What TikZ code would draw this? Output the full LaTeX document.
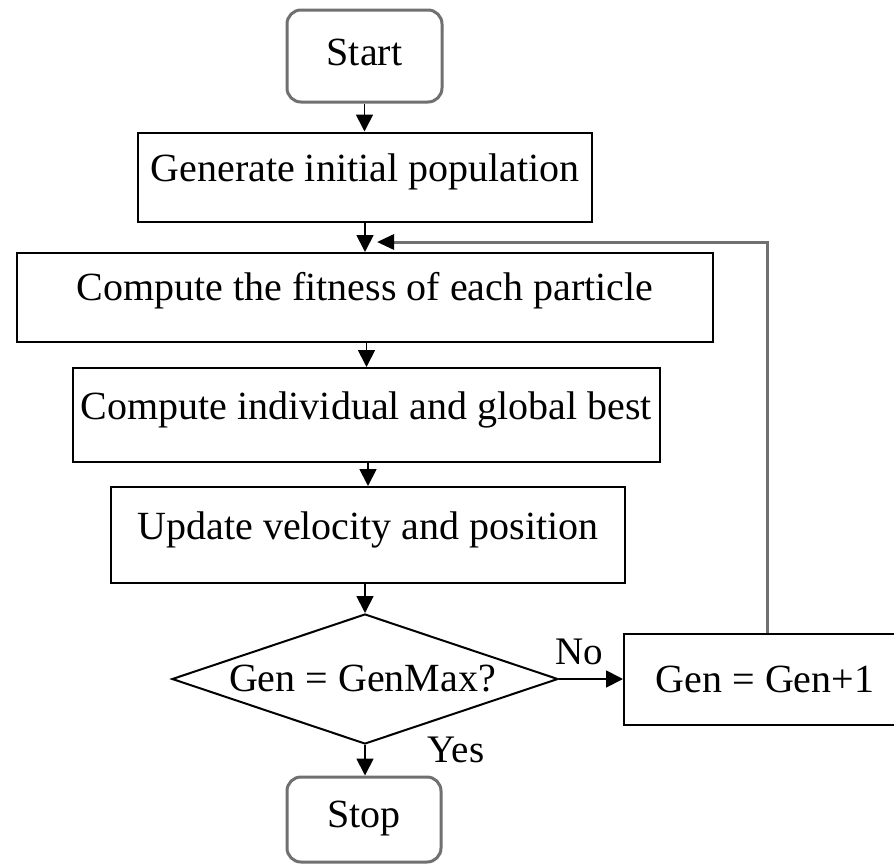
\documentclass[tikz,border=0pt]{standalone}
\usepackage{fontspec}
\setmainfont{Liberation Serif}
\usetikzlibrary{shapes.geometric,arrows.meta}
\definecolor{edgegrey}{RGB}{112,112,112}
\newcommand{\lift}[2]{\raisebox{#1}[\height][\depth]{#2}}
\begin{document}
\begin{tikzpicture}[x=1pt,y=-1pt,
  every node/.style={font=\fontsize{40}{46}\selectfont, inner sep=0pt},
  procbox/.style={draw=black, line width=2pt, rectangle},
  termbox/.style={draw=edgegrey, line width=3pt, rectangle, rounded corners=14pt},
  decision/.style={draw=black, line width=2pt, diamond},
  flow/.style={draw=black, line width=1.8pt, -{Triangle[length=17pt,width=17pt]}},
  loopline/.style={draw=edgegrey, line width=3pt, -{Triangle[length=17pt,width=15pt,color=black]}},
  tag/.style={font=\fontsize{39}{44}\selectfont}]
\useasboundingbox (0,0) rectangle (894,865);
\fill[white] (0,0) rectangle (894,865);

\node[termbox, minimum width=155, minimum height=92] (start) at (364.5,56) {\lift{4pt}{Start}};
\node[procbox, minimum width=454, minimum height=89] (gen) at (365,177) {\lift{5pt}{Generate initial population}};
\node[procbox, minimum width=696, minimum height=89] (fit) at (365,297.5) {\lift{7pt}{Compute the fitness of each particle}};
\node[procbox, minimum width=587, minimum height=94] (ind) at (366.5,415) {\lift{5pt}{Compute individual and global best}};
\node[procbox, minimum width=514, minimum height=96] (upd) at (368,535) {\lift{5pt}{Update velocity and position}};
\node[decision, minimum width=386, minimum height=130] (dia) at (365,679) {};
\node (diat) at (362.5,679) {Gen = GenMax?};
\node[procbox, minimum width=282, minimum height=91] (inc) at (765,679.5) {Gen = Gen+1};
\node[termbox, minimum width=154, minimum height=85] (stop) at (364,819.5) {\lift{1pt}{Stop}};
\node[tag] (nolab) at (579,652) {No};
\node[tag] (yeslab) at (456,750) {Yes};

\coordinate (lp) at (767,242);
\coordinate (mg) at (377,242);

\draw[flow] (start.south) -- (start.south |- gen.north);
\draw[flow] (gen.south) -- (gen.south |- fit.north);
\draw[loopline] (inc.north -| lp) -- (lp) -- (mg);
\draw[flow] (ind.north |- fit.south) -- (ind.north);
\draw[flow] (upd.north |- ind.south) -- (upd.north);
\draw[flow] (dia.north |- upd.south) -- (dia.north);
\draw[flow] (dia.east) -- (inc.west |- dia.east);
\draw[flow] (dia.south) -- (stop.north -| dia.south);
\end{tikzpicture}
\end{document}
